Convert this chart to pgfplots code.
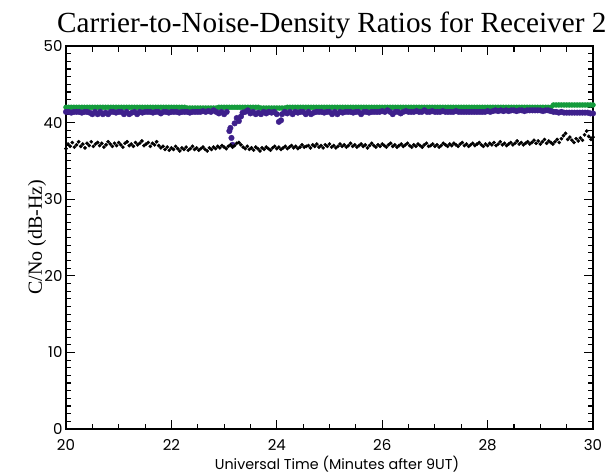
\documentclass[border=0pt]{standalone}
\usepackage{pgfplots}
\usepackage{pgfplotstable}
\pgfplotsset{compat=1.18}
\usepackage{fontspec}
\setmainfont{Liberation Serif}
\newfontfamily\tickfont{Poppins}
\definecolor{cngreen}{RGB}{20,155,60}
\definecolor{cnpurple}{RGB}{62,32,140}

\pgfplotstableread{
x y
20.00 36.6
20.04 37.2
20.08 36.9
20.12 37.4
20.16 36.8
20.20 37.1
20.24 37.5
20.28 36.9
20.32 37.2
20.36 36.7
20.40 37.3
20.44 37.0
20.48 37.5
20.52 36.9
20.56 37.2
20.60 37.4
20.64 37.0
20.68 37.3
20.72 36.8
20.76 37.1
20.80 37.5
20.84 37.2
20.88 36.9
20.92 37.3
20.96 37.0
21.00 37.4
21.04 37.1
21.08 36.8
21.12 37.3
21.16 37.5
21.20 37.0
21.24 37.2
21.28 36.9
21.32 37.4
21.36 37.1
21.40 37.3
21.44 37.6
21.48 37.0
21.52 37.2
21.56 37.4
21.60 36.9
21.64 37.3
21.68 37.1
21.72 37.5
21.76 37.0
21.80 36.7
21.84 36.9
21.88 36.5
21.92 36.8
21.96 36.4
22.00 36.7
22.04 36.5
22.08 36.9
22.12 36.6
22.16 36.3
22.20 36.7
22.24 36.5
22.28 36.8
22.32 36.4
22.36 36.6
22.40 36.9
22.44 36.5
22.48 36.7
22.52 36.4
22.56 36.6
22.60 36.8
22.64 36.5
22.68 36.3
22.72 36.7
22.76 36.5
22.80 36.8
22.84 36.6
22.88 36.9
22.92 36.7
22.96 37.0
23.00 36.8
23.04 36.6
23.08 36.9
23.12 37.1
23.16 36.8
23.20 37.0
23.24 37.3
23.28 37.4
23.32 37.1
23.36 36.8
23.40 36.6
23.44 36.9
23.48 36.5
23.52 36.7
23.56 36.4
23.60 36.8
23.64 36.6
23.68 36.3
23.72 36.7
23.76 36.5
23.80 36.8
23.84 36.6
23.88 36.4
23.92 36.7
23.96 36.9
24.00 36.6
24.04 36.8
24.08 36.5
24.12 36.7
24.16 36.9
24.20 36.6
24.24 36.8
24.28 37.0
24.32 36.7
24.36 36.9
24.40 36.6
24.44 36.8
24.48 37.1
24.52 36.8
24.56 36.9
24.60 37.0
24.64 36.7
24.68 37.1
24.72 36.9
24.76 37.2
24.80 36.8
24.84 37.0
24.88 36.7
24.92 37.1
24.96 36.9
25.00 37.2
25.04 36.8
25.08 37.0
25.12 36.7
25.16 36.9
25.20 37.2
25.24 36.9
25.28 37.1
25.32 36.8
25.36 37.0
25.40 37.3
25.44 36.9
25.48 37.1
25.52 36.8
25.56 37.0
25.60 37.2
25.64 36.9
25.68 37.1
25.72 36.7
25.76 37.0
25.80 37.3
25.84 37.0
25.88 36.8
25.92 37.1
25.96 36.9
26.00 37.2
26.04 37.0
26.08 36.8
26.12 37.1
26.16 37.3
26.20 36.9
26.24 37.1
26.28 36.8
26.32 37.0
26.36 37.2
26.40 36.9
26.44 37.1
26.48 37.3
26.52 37.0
26.56 36.8
26.60 37.1
26.64 36.9
26.68 37.2
26.72 37.0
26.76 36.8
26.80 37.1
26.84 37.3
26.88 36.9
26.92 37.0
26.96 37.2
27.00 36.9
27.04 37.1
27.08 36.8
27.12 37.0
27.16 37.3
27.20 37.1
27.24 36.9
27.28 37.2
27.32 37.0
27.36 37.3
27.40 37.1
27.44 36.9
27.48 37.2
27.52 37.4
27.56 37.0
27.60 37.2
27.64 36.9
27.68 37.1
27.72 37.3
27.76 37.0
27.80 37.2
27.84 37.4
27.88 37.1
27.92 36.9
27.96 37.2
28.00 37.0
28.04 37.3
28.08 37.1
28.12 37.4
28.16 37.0
28.20 37.2
28.24 37.5
28.28 37.1
28.32 37.3
28.36 37.0
28.40 37.2
28.44 37.4
28.48 37.1
28.52 37.3
28.56 37.6
28.60 37.2
28.64 37.4
28.68 37.1
28.72 37.3
28.76 37.5
28.80 37.2
28.84 37.4
28.88 37.7
28.92 37.3
28.96 37.6
29.00 37.2
29.04 37.5
29.08 37.8
29.12 37.3
29.16 37.6
29.20 37.4
29.24 37.2
29.28 37.5
29.32 37.8
29.36 37.4
29.40 37.9
29.44 38.3
29.48 38.6
29.52 37.8
29.56 38.1
29.60 37.7
29.64 37.4
29.68 37.9
29.72 37.6
29.76 38.0
29.80 37.7
29.84 38.4
29.88 38.9
29.92 38.2
29.96 37.8
30.00 38.1
}\blackdata

\pgfplotstableread{
x y
20.00 41.4
20.05 41.4
20.10 41.3
20.15 41.4
20.20 41.4
20.25 41.4
20.30 41.3
20.35 41.4
20.40 41.4
20.45 41.3
20.50 41.1
20.55 41.4
20.60 41.1
20.65 41.4
20.70 41.1
20.75 41.3
20.80 41.1
20.85 41.4
20.90 41.4
20.95 41.3
21.00 41.4
21.05 41.4
21.10 41.1
21.15 41.4
21.20 41.1
21.25 41.3
21.30 41.4
21.35 41.1
21.40 41.4
21.45 41.3
21.50 41.4
21.55 41.4
21.60 41.4
21.65 41.3
21.70 41.4
21.75 41.4
21.80 41.2
21.85 41.4
21.90 41.4
21.95 41.3
22.00 41.4
22.05 41.4
22.10 41.4
22.15 41.3
22.20 41.4
22.25 41.4
22.30 41.4
22.35 41.3
22.40 41.4
22.45 41.4
22.50 41.4
22.55 41.4
22.60 41.5
22.65 41.4
22.70 41.5
22.75 41.4
22.80 41.6
22.85 41.4
22.90 41.2
22.95 41.4
23.00 41.1
23.05 41.4
23.10 38.9
23.12 39.3
23.14 38.0
23.16 37.1
23.20 39.9
23.24 40.6
23.28 40.2
23.32 40.8
23.35 41.3
23.40 41.4
23.45 41.6
23.50 41.2
23.55 41.4
23.60 41.1
23.65 41.3
23.70 41.1
23.75 41.4
23.80 41.2
23.85 41.4
23.90 41.3
23.95 41.4
24.00 41.1
24.04 40.1
24.08 40.3
24.10 41.1
24.15 41.4
24.20 41.2
24.25 41.4
24.30 41.1
24.35 41.4
24.40 41.3
24.45 41.4
24.50 41.4
24.55 41.1
24.60 41.4
24.65 41.1
24.70 41.3
24.75 41.4
24.80 41.4
24.85 41.4
24.90 41.3
24.95 41.4
25.00 41.4
25.05 41.1
25.10 41.4
25.15 41.1
25.20 41.4
25.25 41.3
25.30 41.4
25.35 41.4
25.40 41.4
25.45 41.3
25.50 41.4
25.55 41.4
25.60 41.1
25.65 41.4
25.70 41.4
25.75 41.3
25.80 41.4
25.85 41.4
25.90 41.4
25.95 41.4
26.00 41.5
26.05 41.4
26.10 41.6
26.15 41.4
26.20 41.1
26.25 41.4
26.30 41.4
26.35 41.2
26.40 41.4
26.45 41.5
26.50 41.4
26.55 41.4
26.60 41.4
26.65 41.5
26.70 41.4
26.75 41.4
26.80 41.6
26.85 41.4
26.90 41.4
26.95 41.5
27.00 41.4
27.05 41.4
27.10 41.4
27.15 41.5
27.20 41.4
27.25 41.4
27.30 41.4
27.35 41.4
27.40 41.5
27.45 41.4
27.50 41.4
27.55 41.4
27.60 41.4
27.65 41.4
27.70 41.4
27.75 41.4
27.80 41.4
27.85 41.4
27.90 41.4
27.95 41.4
28.00 41.5
28.05 41.4
28.10 41.5
28.15 41.6
28.20 41.5
28.25 41.6
28.30 41.5
28.35 41.6
28.40 41.5
28.45 41.6
28.50 41.6
28.55 41.5
28.60 41.6
28.65 41.6
28.70 41.5
28.75 41.6
28.80 41.6
28.85 41.6
28.90 41.6
28.95 41.6
29.00 41.6
29.05 41.5
29.10 41.6
29.15 41.6
29.20 41.5
29.25 41.4
29.30 41.4
29.35 41.3
29.40 41.4
29.45 41.3
29.50 41.3
29.55 41.3
29.60 41.3
29.65 41.3
29.70 41.3
29.75 41.3
29.80 41.3
29.85 41.3
29.90 41.3
29.95 41.2
30.00 41.2
}\purpledata

\pgfplotstableread{
x y
20.00 42.0
20.05 42.0
20.10 42.0
20.15 42.0
20.20 42.0
20.25 42.0
20.30 42.0
20.35 42.0
20.40 42.0
20.45 42.0
20.50 42.0
20.55 42.0
20.60 42.0
20.65 42.0
20.70 42.0
20.75 42.0
20.80 42.0
20.85 42.0
20.90 42.0
20.95 42.0
21.00 42.0
21.05 42.0
21.10 42.0
21.15 42.0
21.20 42.0
21.25 42.0
21.30 42.0
21.35 42.0
21.40 42.0
21.45 42.0
21.50 42.0
21.55 42.0
21.60 42.0
21.65 42.0
21.70 42.0
21.75 42.0
21.80 42.0
21.85 42.0
21.90 42.0
21.95 42.0
22.00 42.0
22.05 42.0
22.10 42.0
22.15 42.0
22.20 42.0
22.25 42.0
22.30 41.9
22.35 41.9
22.40 41.9
22.45 41.9
22.50 41.9
22.55 41.9
22.60 41.9
22.65 41.9
22.70 41.9
22.75 41.9
22.80 41.9
22.85 41.9
22.90 42.0
22.95 42.0
23.00 42.0
23.05 42.0
23.10 42.0
23.15 42.0
23.20 42.0
23.25 42.0
23.30 42.0
23.35 42.0
23.40 42.0
23.45 42.0
23.50 42.0
23.55 42.0
23.60 42.0
23.65 42.0
23.70 41.9
23.75 41.9
23.80 41.9
23.85 41.9
23.90 41.9
23.95 41.9
24.00 41.9
24.05 41.9
24.10 41.9
24.15 41.9
24.20 42.0
24.25 42.0
24.30 42.0
24.35 42.0
24.40 42.0
24.45 42.0
24.50 42.0
24.55 42.0
24.60 42.0
24.65 42.0
24.70 42.0
24.75 42.0
24.80 42.0
24.85 42.0
24.90 42.0
24.95 42.0
25.00 42.0
25.05 42.0
25.10 42.0
25.15 42.0
25.20 42.0
25.25 42.0
25.30 42.0
25.35 42.0
25.40 42.0
25.45 42.0
25.50 42.0
25.55 42.0
25.60 42.0
25.65 42.0
25.70 42.0
25.75 42.0
25.80 42.0
25.85 42.0
25.90 42.0
25.95 42.0
26.00 42.0
26.05 42.0
26.10 42.0
26.15 42.0
26.20 42.0
26.25 42.0
26.30 42.0
26.35 42.0
26.40 42.0
26.45 42.0
26.50 42.0
26.55 42.0
26.60 42.0
26.65 42.0
26.70 42.0
26.75 42.0
26.80 42.0
26.85 42.0
26.90 42.0
26.95 42.0
27.00 42.0
27.05 42.0
27.10 42.0
27.15 42.0
27.20 42.0
27.25 42.0
27.30 42.0
27.35 42.0
27.40 42.0
27.45 42.0
27.50 42.0
27.55 42.0
27.60 42.0
27.65 42.0
27.70 42.0
27.75 42.0
27.80 42.0
27.85 42.0
27.90 42.0
27.95 42.0
28.00 42.0
28.05 42.0
28.10 42.0
28.15 42.0
28.20 42.0
28.25 42.0
28.30 42.0
28.35 42.0
28.40 42.0
28.45 42.0
28.50 42.0
28.55 42.0
28.60 42.0
28.65 42.0
28.70 42.0
28.75 42.0
28.80 42.0
28.85 42.0
28.90 42.0
28.95 42.0
29.00 42.0
29.05 42.0
29.10 42.0
29.15 42.0
29.20 42.0
29.25 42.3
29.30 42.3
29.35 42.3
29.40 42.3
29.45 42.3
29.50 42.3
29.55 42.3
29.60 42.3
29.65 42.3
29.70 42.3
29.75 42.3
29.80 42.3
29.85 42.3
29.90 42.3
29.95 42.3
30.00 42.3
}\greendata

\begin{document}
\begin{tikzpicture}[x=1pt,y=1pt]
\useasboundingbox (0,0) rectangle (614,475);
\begin{axis}[
  at={(66pt,46pt)}, anchor=south west,
  scale only axis, width=527pt, height=383pt,
  xmin=20, xmax=30, ymin=0, ymax=50,
  xtick={20,22,...,30}, ytick={0,10,...,50},
  minor x tick num=3, minor y tick num=9,
  tick align=inside,
  major tick length=9pt, minor tick length=5.5pt,
  axis line style={line width=1.3pt},
  every tick/.style={black, line width=1.1pt},
  /pgf/number format/assume math mode=true,
  tick label style={font=\tickfont\fontsize{15}{15}\selectfont},
  xticklabel style={yshift=-7pt},
]
\addplot[only marks, mark=*, mark size=2.5pt, color=cngreen] table[x=x,y=y] {\greendata};
\addplot[only marks, mark=*, mark size=2.8pt, color=cnpurple] table[x=x,y=y] {\purpledata};
\addplot[only marks, mark=*, mark size=1.65pt, color=black] table[x=x,y=y] {\blackdata};
\end{axis}
\node[anchor=base west, font=\fontsize{29.2}{30}\selectfont, inner sep=0pt] at (57,442) {Carrier-to-Noise-Density Ratios for Receiver 2};
\node[anchor=base, font=\tickfont\fontsize{14.3}{16}\selectfont, inner sep=0pt] at (337,6) {Universal Time (Minutes after 9UT)};
\node[rotate=90, font=\fontsize{20}{20}\selectfont, inner sep=0pt] at (37,238) {C/No (dB-Hz)};
\end{tikzpicture}
\end{document}
